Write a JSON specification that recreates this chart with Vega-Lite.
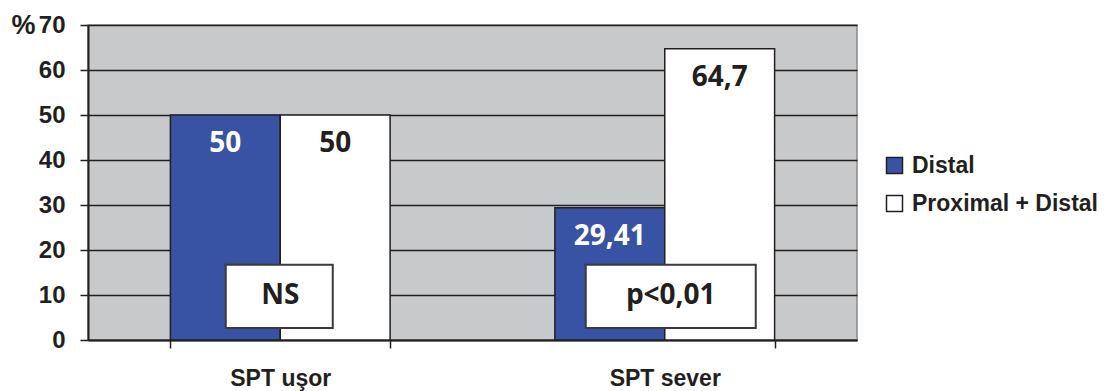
{
  "$schema": "https://vega.github.io/schema/vega-lite/v6.json",
  "width": 769,
  "height": 315,
  "autosize": {"type": "none"},
  "padding": {"left": 88, "top": 25, "right": 263, "bottom": 51},
  "background": "white",
  "config": {
    "view": {"fill": "#c8c9cb", "stroke": "#8a8a8a", "strokeWidth": 1.5}
  },
  "datasets": {
    "bars": [
      {"group": "SPT uşor", "series": "Distal", "value": 50, "label": "50"},
      {"group": "SPT uşor", "series": "Proximal + Distal", "value": 50, "label": "50"},
      {"group": "SPT sever", "series": "Distal", "value": 29.41, "label": "29,41"},
      {"group": "SPT sever", "series": "Proximal + Distal", "value": 64.7, "label": "64,7"}
    ],
    "boxes": [
      {"group": "SPT uşor", "text": "NS", "lo": 2.67, "hi": 16.7, "mid": 9.8},
      {"group": "SPT sever", "text": "p<0,01", "lo": 2.67, "hi": 16.7, "mid": 9.8}
    ]
  },
  "encoding": {
    "x": {
      "field": "group", "type": "nominal", "sort": ["SPT uşor", "SPT sever"],
      "scale": {"paddingInner": 0.4286, "paddingOuter": 0.2143},
      "axis": {"title": null, "labelAngle": 0, "tickBand": "extent", "tickSize": 8, "tickColor": "#231f20", "tickWidth": 1.5, "domainColor": "#231f20", "domainWidth": 2, "labelPadding": 19, "labelFont": "Liberation Sans", "labelFontWeight": "bold", "labelColor": "#231f20", "labelFontSize": 23}
    }
  },
  "layer": [
    {
      "data": {"name": "bars"},
      "mark": {"type": "bar", "stroke": "#231f20", "strokeWidth": 1.5},
      "encoding": {
        "xOffset": {"field": "series", "type": "nominal", "sort": ["Distal", "Proximal + Distal"], "scale": {"paddingInner": 0, "paddingOuter": 0}},
        "y": {
          "field": "value", "type": "quantitative",
          "scale": {"domain": [0, 70], "nice": false},
          "axis": {"values": [0, 10, 20, 30, 40, 50, 60, 70], "title": "%", "titleAngle": 0, "titleX": -77, "titleY": 8, "titleAlign": "left", "titleBaseline": "alphabetic", "titleFont": "Liberation Sans", "titleFontSize": 27, "titleFontWeight": "bold", "titleColor": "#231f20", "grid": true, "gridColor": "#231f20", "gridWidth": 1.5, "tickSize": 8, "tickColor": "#231f20", "tickWidth": 1.5, "domainColor": "#231f20", "domainWidth": 2, "labelPadding": 15, "labelFont": "Liberation Sans", "labelFontWeight": "bold", "labelColor": "#231f20", "labelFontSize": 24}
        },
        "color": {
          "field": "series", "type": "nominal",
          "scale": {"domain": ["Distal", "Proximal + Distal"], "range": ["#3953a4", "#ffffff"]},
          "legend": {"title": null, "orient": "none", "legendX": 795, "legendY": 129, "symbolType": "square", "symbolSize": 256, "symbolStrokeColor": "#231f20", "symbolStrokeWidth": 1.5, "labelFont": "Liberation Sans", "labelFontSize": 23, "labelFontWeight": "bold", "labelColor": "#231f20", "labelOffset": 6, "labelLimit": 400, "rowPadding": 14}
        }
      }
    },
    {
      "data": {"name": "bars"},
      "mark": {"type": "text", "dy": 29, "baseline": "middle", "font": "Open Sans", "fontWeight": "bold", "fontSize": 28},
      "encoding": {
        "xOffset": {"field": "series", "type": "nominal", "sort": ["Distal", "Proximal + Distal"]},
        "y": {"field": "value", "type": "quantitative"},
        "text": {"field": "label"},
        "color": {"condition": {"test": "datum.series === 'Distal'", "value": "white"}, "value": "#231f20"}
      }
    },
    {
      "data": {"name": "boxes"},
      "transform": [{"filter": "datum.group === 'SPT uşor'"}],
      "layer": [
        {
          "mark": {"type": "rect", "width": 107, "xOffset": -1, "fill": "white", "stroke": "#3a3a3a", "strokeWidth": 2},
          "encoding": {"y": {"field": "lo", "type": "quantitative"}, "y2": {"field": "hi"}}
        },
        {
          "mark": {"type": "text", "baseline": "middle", "font": "Open Sans", "fontWeight": "bold", "fontSize": 28, "color": "#231f20"},
          "encoding": {"y": {"field": "mid", "type": "quantitative"}, "text": {"field": "text"}}
        }
      ]
    },
    {
      "data": {"name": "boxes"},
      "transform": [{"filter": "datum.group === 'SPT sever'"}],
      "layer": [
        {
          "mark": {"type": "rect", "width": 170, "xOffset": 6, "fill": "white", "stroke": "#3a3a3a", "strokeWidth": 2},
          "encoding": {"y": {"field": "lo", "type": "quantitative"}, "y2": {"field": "hi"}}
        },
        {
          "mark": {"type": "text", "baseline": "middle", "dx": 6, "font": "Open Sans", "fontWeight": "bold", "fontSize": 28, "color": "#231f20"},
          "encoding": {"y": {"field": "mid", "type": "quantitative"}, "text": {"field": "text"}}
        }
      ]
    }
  ]
}
